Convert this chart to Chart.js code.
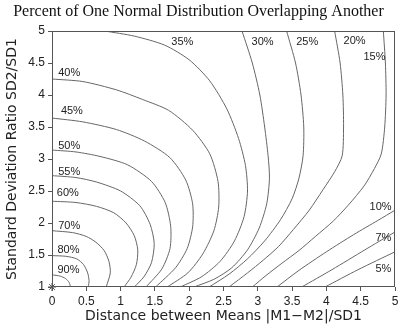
<!DOCTYPE html>
<html>
<head>
<meta charset="utf-8">
<script src="https://cdn.jsdelivr.net/npm/chart.js@4.4.1/dist/chart.umd.min.js"></script>
<style>
    html, body { margin: 0; padding: 0; background: #fff; }
</style>
</head>
<body>
<canvas id="overlapChart" width="400" height="325"></canvas>
<script>
const xTicks = [0, 0.5, 1, 1.5, 2, 2.5, 3, 3.5, 4, 4.5, 5];
const yTicks = [1, 1.5, 2, 2.5, 3, 3.5, 4, 4.5, 5];
const levels = ['90%', '80%', '70%', '60%', '55%', '50%', '45%', '40%', '35%', '30%', '25%', '20%', '15%', '10%', '7%', '5%'];

// contour points: [distance between means, SD ratio]
const c90 = [[0, 1.19], [0.12, 1.17], [0.2, 1.13], [0.25, 1.07], [0.27, 1.0]];
const c80 = [[0, 1.49], [0.2, 1.48], [0.36, 1.44], [0.46, 1.35], [0.52, 1.22], [0.54, 1.1], [0.53, 1.0]];
const c70 = [[0, 1.88], [0.3, 1.85], [0.5, 1.79], [0.64, 1.7], [0.76, 1.57], [0.83, 1.4], [0.85, 1.22], [0.79, 1.0]];
const c60 = [[0, 2.34], [0.35, 2.32], [0.65, 2.26], [0.9, 2.16], [1.08, 2.0], [1.2, 1.8], [1.25, 1.58], [1.23, 1.35], [1.15, 1.15], [1.05, 1.0]];
const c55 = [[0, 2.74], [0.35, 2.71], [0.65, 2.64], [1.0, 2.5], [1.28, 2.27], [1.43, 1.98], [1.49, 1.68], [1.45, 1.38], [1.34, 1.16], [1.2, 1.0]];
const c50 = [[0, 3.14], [0.35, 3.11], [0.7, 3.04], [1.1, 2.91], [1.45, 2.65], [1.65, 2.32], [1.73, 1.95], [1.72, 1.6], [1.6, 1.28], [1.37, 1.0]];
const c45 = [[0, 3.64], [0.45, 3.58], [0.94, 3.46], [1.35, 3.28], [1.72, 3.02], [1.95, 2.67], [2.05, 2.3], [2.05, 1.94], [1.97, 1.6], [1.8, 1.3], [1.51, 1.0]];
const c40 = [[0, 4.25], [0.45, 4.21], [0.94, 4.08], [1.32, 3.93], [1.7, 3.76], [2.05, 3.45], [2.3, 3.08], [2.42, 2.65], [2.43, 2.25], [2.36, 1.88], [2.2, 1.52], [1.98, 1.22], [1.68, 1.0]];
const c35 = [[0.77, 5.0], [1.2, 4.92], [1.64, 4.78], [2.0, 4.55], [2.3, 4.22], [2.55, 3.78], [2.72, 3.32], [2.82, 2.9], [2.85, 2.5], [2.8, 2.1], [2.66, 1.72], [2.45, 1.4], [2.18, 1.16], [1.87, 1.0]];
const c30 = [[2.77, 5.0], [2.92, 4.5], [3.03, 4.0], [3.1, 3.5], [3.15, 3.05], [3.17, 2.7], [3.13, 2.3], [3.02, 1.92], [2.85, 1.58], [2.62, 1.3], [2.36, 1.12], [2.07, 1.0]];
const c25 = [[3.42, 5.0], [3.55, 4.5], [3.63, 4.0], [3.67, 3.5], [3.66, 3.05], [3.6, 2.7], [3.5, 2.38], [3.33, 2.05], [3.1, 1.72], [2.85, 1.44], [2.58, 1.2], [2.29, 1.0]];
const c20 = [[4.12, 5.0], [4.2, 4.5], [4.24, 4.0], [4.25, 3.5], [4.23, 3.05], [4.12, 2.8], [3.95, 2.52], [3.75, 2.2], [3.52, 1.9], [3.3, 1.63], [3.08, 1.42], [2.85, 1.22], [2.58, 1.0]];
const c15 = [[4.83, 5.0], [4.86, 4.5], [4.87, 4.0], [4.85, 3.5], [4.8, 3.08], [4.7, 2.85], [4.55, 2.58], [4.32, 2.28], [4.1, 2.03], [3.84, 1.79], [3.6, 1.57], [3.35, 1.37], [3.12, 1.18], [2.92, 1.0]];
const c10 = [[3.28, 1.0], [3.6, 1.26], [4.0, 1.55], [4.4, 1.82], [4.75, 2.04], [5.0, 2.2]];
const c7 = [[3.64, 1.0], [4.08, 1.27], [4.56, 1.58], [5.0, 1.86]];
const c5 = [[3.98, 1.0], [4.46, 1.27], [5.0, 1.55]];

const contours = [c90, c80, c70, c60, c55, c50, c45, c40, c35, c30, c25, c20, c15, c10, c7, c5];

// label anchor for each level (data units)
const labelAt = [[0.24, 1.26], [0.24, 1.58], [0.25, 1.95], [0.23, 2.47], [0.25, 2.79], [0.25, 3.21], [0.29, 3.75], [0.25, 4.34],
    [1.9, 4.83], [3.07, 4.83], [3.72, 4.83], [4.41, 4.84], [4.7, 4.59], [4.79, 2.25], [4.83, 1.77], [4.83, 1.28]];

const lineColor = '#666';
const inkColor = '#222';

const contourLabels = {
    id: 'contourLabels',
    afterDatasetsDraw(chart) {
        const { ctx, chartArea: a } = chart;
        const xs = chart.scales.x;
        const ys = chart.scales.y;
        ctx.save();
        ctx.font = '11px "Liberation Sans"';
        ctx.fillStyle = inkColor;
        ctx.textAlign = 'center';
        ctx.textBaseline = 'middle';
        levels.forEach((txt, i) => {
            ctx.fillText(txt, xs.getPixelForValue(labelAt[i][0]), ys.getPixelForValue(labelAt[i][1]));
        });
        // box round the plot
        ctx.strokeStyle = '#555';
        ctx.lineWidth = 1;
        ctx.strokeRect(a.left + 0.5, a.top + 0.5, a.right - a.left - 1, a.bottom - a.top - 1);
        ctx.restore();
    }
};

const datasets = contours.map((pts, i) => ({
    label: levels[i],
    data: pts.map(p => ({ x: p[0], y: p[1] })),
    showLine: true,
    borderColor: lineColor,
    borderWidth: 1,
    pointRadius: 0,
    tension: 0.25,
    fill: false
}));

datasets.push({
    label: 'origin',
    data: [{ x: 0, y: 1 }],
    pointStyle: 'star',
    pointRadius: 4,
    borderColor: '#555',
    borderWidth: 1,
    clip: false
});

const tickFont = { family: 'Liberation Sans', size: 12 };
const plainNumber = v => String(v);

new Chart(document.getElementById('overlapChart'), {
    type: 'scatter',
    data: { datasets },
    options: {
        responsive: false,
        animation: false,
        layout: { padding: { left: 0, right: 3, top: 0, bottom: 0 } },
        plugins: {
            legend: { display: false },
            tooltip: { enabled: false },
            title: {
                display: true,
                text: 'Percent of One Normal Distribution Overlapping Another',
                color: '#111',
                font: { family: 'Liberation Serif', size: 16, weight: 'normal', lineHeight: 1.125 },
                padding: { top: 3, bottom: 10 }
            }
        },
        scales: {
            x: {
                type: 'linear',
                min: 0,
                max: 5,
                afterBuildTicks: s => { s.ticks = xTicks.map(v => ({ value: v })); },
                afterFit: s => { s.height = 38; s.paddingLeft = 0; s.paddingRight = 0; },
                border: { display: false },
                grid: { drawOnChartArea: false, drawTicks: true, tickLength: 4, color: '#555' },
                ticks: { color: inkColor, font: tickFont, padding: 3, maxRotation: 0, autoSkip: false, callback: plainNumber },
                title: {
                    display: true,
                    text: 'Distance between Means |M1\u2212M2|/SD1',
                    color: inkColor,
                    font: { family: 'DejaVu Sans', size: 14 },
                    padding: { top: 0, bottom: 0 }
                }
            },
            y: {
                type: 'linear',
                min: 1,
                max: 5,
                afterBuildTicks: s => { s.ticks = yTicks.map(v => ({ value: v })); },
                afterFit: s => { s.width = 52; },
                border: { display: false },
                grid: { drawOnChartArea: false, drawTicks: true, tickLength: 4, color: '#555' },
                ticks: { color: inkColor, font: tickFont, padding: 3, autoSkip: false, callback: plainNumber },
                title: {
                    display: true,
                    text: 'Standard Deviation Ratio SD2/SD1',
                    color: inkColor,
                    font: { family: 'DejaVu Sans', size: 14 },
                    padding: { top: 4, bottom: 0 }
                }
            }
        }
    },
    plugins: [contourLabels]
});
</script>
</body>
</html>
